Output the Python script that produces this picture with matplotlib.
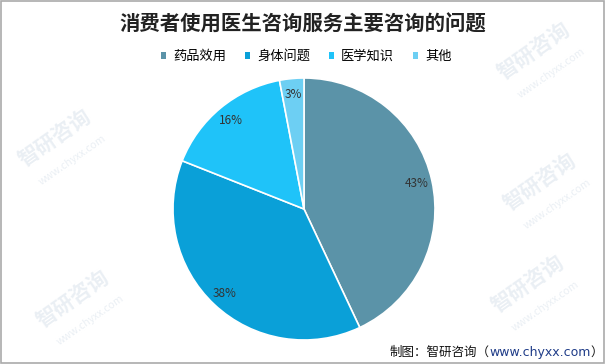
import matplotlib
matplotlib.use("Agg")
import matplotlib.pyplot as plt
from matplotlib.patches import Rectangle, Patch
from matplotlib.offsetbox import TextArea, HPacker, AnchoredOffsetbox

plt.rcParams['font.family'] = ['Noto Sans CJK SC', 'DejaVu Sans']

title = "消费者使用医生咨询服务主要咨询的问题"
labels = ["药品效用", "身体问题", "医学知识", "其他"]
values = [43, 38, 16, 3]
colors = ["#5B93A8", "#0AA0D8", "#1FC3F9", "#6DCFF3"]

fig = plt.figure(figsize=(6.06, 3.64), dpi=100, facecolor="white")

# faint watermarks
for (x, y, rot) in [(0.09, 0.62, 35), (0.88, 0.86, 35), (0.89, 0.50, 35),
                    (0.12, 0.18, 35), (0.87, 0.22, 35)]:
    fig.text(x, y, "智研咨询", fontsize=15, fontweight="bold", color="#EAEFF4",
             rotation=rot, ha="center", va="center", zorder=0)
    fig.text(x + 0.03, y - 0.06, "www.chyxx.com", fontsize=7.5, color="#EAEFF4",
             rotation=rot, ha="center", va="center", zorder=0)

ax = fig.add_axes([(304 - 131) / 606, (364 - 340) / 364, 262 / 606, 262 / 364])
wedges, _, autotexts = ax.pie(values, colors=colors, startangle=90, counterclock=False,
                              autopct="%d%%", pctdistance=0.88,
                              wedgeprops=dict(edgecolor="white", linewidth=1.2),
                              textprops=dict(fontsize=8.5, color="#333333"))
ax.set_xlim(-1.0, 1.0)
ax.set_ylim(-1.0, 1.0)
ax.set_aspect("equal")

fig.text(0.5, 0.935, title, ha="center", va="center", fontsize=14.7,
         fontweight="bold", color="#222222")

handles = [Patch(facecolor=c, edgecolor="none") for c in colors]
fig.legend(handles, labels, loc="center", bbox_to_anchor=(0.505, 0.845), ncol=4,
           frameon=False, fontsize=9.5, handlelength=0.45, handleheight=0.45,
           handletextpad=0.5, columnspacing=1.4)

# footer: source line
parts = [TextArea("制图：智研咨询（", textprops=dict(fontsize=9, color="#111111")),
         TextArea("www.chyxx.com", textprops=dict(fontsize=9, color="#1F3C88",
                                                  family=['DejaVu Sans'])),
         TextArea("）", textprops=dict(fontsize=9, color="#111111"))]
box = HPacker(children=parts, align="baseline", pad=0, sep=0)
anch = AnchoredOffsetbox(loc="lower right", child=box, frameon=False,
                         bbox_to_anchor=(0.995, 0.015), bbox_transform=fig.transFigure,
                         borderpad=0, pad=0)
fig.add_artist(anch)

fig.patches.append(Rectangle((0.002, 0.003), 0.995, 0.994, transform=fig.transFigure,
                             fill=False, edgecolor="#AAAAAA", linewidth=1.2))

fig.savefig("out.png", dpi=100, facecolor="white")
